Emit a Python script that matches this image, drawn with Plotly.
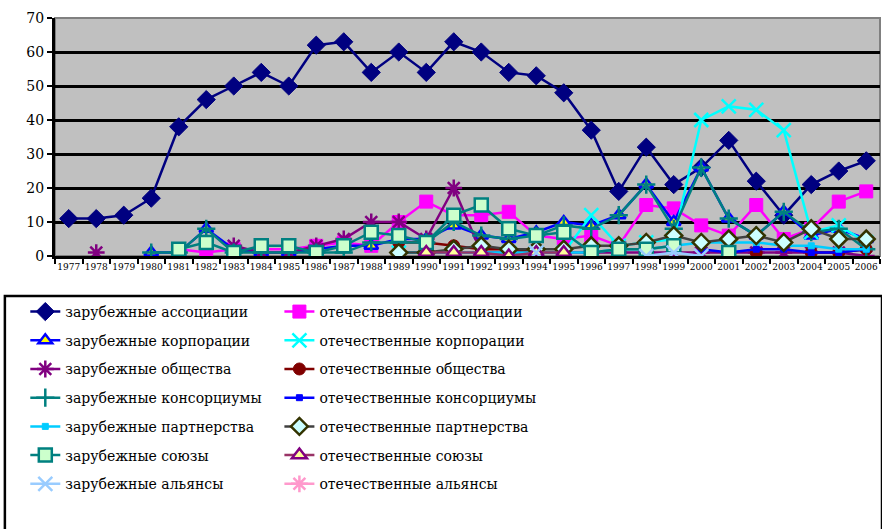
import plotly.graph_objects as go

years = [str(y) for y in range(1977, 2007)]
N = None

zar_assoc = [11, 11, 12, 17, 38, 46, 50, 54, 50, 62, 63, 54, 60, 54, 63, 60, 54, 53, 48, 37, 19, 32, 21, 26, 34, 22, 12, 21, 25, 28]
otech_assoc = [N, N, N, N, 2, 1, 2, 2, 2, 3, 4, 3, 10, 16, 12, 12, 13, 6, 5, 6, 3, 15, 14, 9, 6, 15, 5, 8, 16, 19]
zar_corp = [N, N, N, 1, 1, 8, 2, 1, 1, 2, 3, 3, 5, 5, 9, 6, 5, 7, 10, 9, 12, 21, 10, 26, 11, 6, 13, 6, 8, 5]
otech_corp = [N, N, N, N, N, N, N, N, N, N, N, N, 1, 1, 1, 1, 1, 1, 1, 12, 3, 4, 5, 40, 44, 43, 37, 7, 9, 4]
zar_obsh = [N, 1, N, N, N, N, 3, 1, 1, 3, 5, 10, 10, 5, 20, 1, 1, 1, 1, 1, 1, 1, 1, 1, 1, 1, 1, 1, 1, 0]
otech_obsh = [N, N, N, N, N, N, N, N, N, N, N, N, 4, 4, 3, 2, 2, 1, 1, N, N, N, N, N, N, 1, N, 1, 1, 2]
zar_cons = [N, N, N, 1, 1, 8, 1, 1, 1, 1, 1, 4, 4, 4, 10, 6, 5, 6, 9, 8, 12, 21, 8, 26, 11, 6, 13, 7, 8, 2]
otech_cons = [N, N, N, N, N, N, N, N, N, N, N, N, N, N, N, N, N, N, N, N, N, N, N, 2, 1, 2, 2, 1, 1, 2]
zar_partn = [N, N, N, N, N, N, N, N, N, N, N, N, 1, 1, 1, 1, 1, 1, 1, 1, 2, 2, 3, 4, 4, 4, 3, 3, 2, 2]
otech_partn = [N, N, N, N, N, N, N, N, N, N, N, N, 1, 1, 2, 3, 2, 2, 2, 3, 3, 4, 6, 4, 5, 6, 4, 8, 5, 5]
zar_soyuz = [N, N, N, N, 2, 4, 1, 3, 3, 1, 3, 7, 6, 4, 12, 15, 8, 6, 7, 1, 2, 2, 3, N, 1, N, N, N, N, N]
otech_soyuz = [N, N, N, N, N, N, N, N, N, N, N, N, N, 1, 1, 1, 0, 1, 1, N, N, N, N, N, N, N, N, N, N, N]
zar_all = [N, N, N, N, N, N, N, N, N, N, N, N, N, N, N, N, N, 1, N, N, N, 0, 1, 0, N, N, N, N, N, N]
otech_all = [N] * 30

names = [
    "зарубежные ассоциации", "отечественные ассоциации",
    "зарубежные корпорации", "отечественные корпорации",
    "зарубежные общества", "отечественные общества",
    "зарубежные консорциумы", "отечественные консорциумы",
    "зарубежные партнерства", "отечественные партнерства",
    "зарубежные союзы", "отечественные союзы",
    "зарубежные альянсы", "отечественные альянсы",
]
data = [zar_assoc, otech_assoc, zar_corp, otech_corp, zar_obsh, otech_obsh,
        zar_cons, otech_cons, zar_partn, otech_partn, zar_soyuz, otech_soyuz,
        zar_all, otech_all]

styles = [
    dict(lc="#000080", sym="diamond", size=14, fill="#000080", mlc="#000080", mlw=1),
    dict(lc="#FF00FF", sym="square", size=13, fill="#FF00FF", mlc="#FF00FF", mlw=1),
    dict(lc="#0000FF", sym="triangle-up", size=12, fill="#FFFF00", mlc="#0000FF", mlw=2.5),
    dict(lc="#00FFFF", sym="x-thin-open", size=14, fill="#00FFFF", mlc="#00FFFF", mlw=2.5),
    dict(lc="#800080", sym="asterisk-open", size=14, fill="#800080", mlc="#800080", mlw=2.5),
    dict(lc="#800000", sym="circle", size=12, fill="#800000", mlc="#800000", mlw=1),
    dict(lc="#008080", sym="cross-thin-open", size=13, fill="#008080", mlc="#008080", mlw=2.5),
    dict(lc="#0000FF", sym="square", size=6, fill="#0000FF", mlc="#0000FF", mlw=1),
    dict(lc="#00CCFF", sym="square", size=6, fill="#00CCFF", mlc="#00CCFF", mlw=1),
    dict(lc="#404040", sym="diamond", size=13, fill="#CCFFFF", mlc="#333300", mlw=2.5),
    dict(lc="#008080", sym="square", size=13, fill="#CCFFCC", mlc="#008080", mlw=2.5),
    dict(lc="#993366", sym="triangle-up", size=13, fill="#FFFF99", mlc="#800080", mlw=2.5),
    dict(lc="#99CCFF", sym="x-thin-open", size=14, fill="#99CCFF", mlc="#99CCFF", mlw=2.5),
    dict(lc="#FF99CC", sym="asterisk-open", size=14, fill="#FF99CC", mlc="#FF99CC", mlw=2.5),
]

fig = go.Figure()
for i, (nm, vals, st) in enumerate(zip(names, data, styles)):
    fig.add_trace(go.Scatter(
        x=years, y=vals, name=nm, mode="lines+markers",
        line=dict(color=st["lc"], width=2.5),
        marker=dict(symbol=st["sym"], size=st["size"], color=st["fill"],
                    line=dict(color=st["mlc"], width=st["mlw"])),
        connectgaps=False,
        legend="legend" if i % 2 == 0 else "legend2",
        legendgroup="g%d" % i,
    ))

FAM = "DejaVu Serif"
legfont = dict(family=FAM, size=14, color="#000000")
fig.update_layout(
    width=882, height=529,
    margin=dict(l=55, r=2, t=18, b=273),
    paper_bgcolor="white",
    plot_bgcolor="#C0C0C0",
    font=dict(family=FAM, color="#000000"),
    legend=dict(x=-0.036, y=-0.168, xanchor="left", yanchor="top",
                orientation="v", font=legfont,
                bgcolor="rgba(0,0,0,0)", tracegroupgap=7.5, itemwidth=30),
    legend2=dict(x=0.272, y=-0.168, xanchor="left", yanchor="top",
                 orientation="v", font=legfont,
                 bgcolor="rgba(0,0,0,0)", tracegroupgap=7.5, itemwidth=30),
    xaxis=dict(type="category", tickson="boundaries", ticks="outside",
               ticklen=5, tickwidth=2, tickcolor="#000000",
               showline=True, linecolor="#000000", linewidth=3,
               showgrid=False, tickfont=dict(size=9, family=FAM),
               tickangle=0, range=[-0.5, 29.5]),
    yaxis=dict(range=[0, 70], dtick=10, ticks="outside", ticklen=5,
               tickwidth=2, tickcolor="#000000",
               showline=True, linecolor="#000000", linewidth=3,
               gridcolor="#000000", gridwidth=2.5,
               zeroline=False, tickfont=dict(size=14, family=FAM)),
    shapes=[
        dict(type="rect", xref="paper", yref="paper", x0=0, x1=1, y0=0, y1=1,
             line=dict(color="#808080", width=2), layer="below"),
        dict(type="rect", xref="paper", yref="paper",
             x0=(5 - 55) / 823, x1=(880 - 55) / 823,
             y0=(256 - 296) / 238, y1=(256 - 535) / 238,
             line=dict(color="#000000", width=2.5), fillcolor="rgba(0,0,0,0)",
             layer="below"),
    ],
)

fig.write_html("out.html", config={"displayModeBar": False},
               post_script="document.body.style.margin='0';document.body.style.overflow='hidden';")
